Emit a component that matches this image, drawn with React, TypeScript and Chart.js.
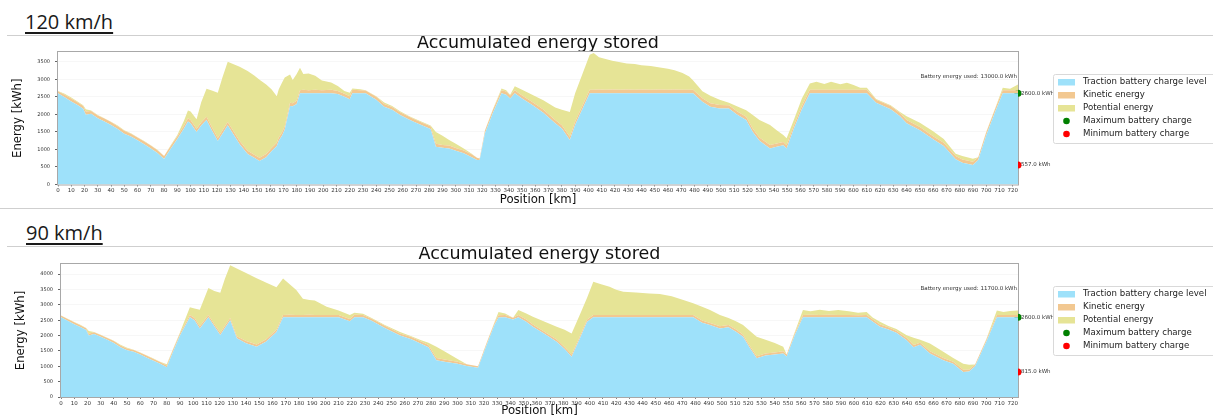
import React, { useEffect, useRef } from "react";
import { Chart, registerables } from "chart.js";

Chart.register(...registerables);

// ---------- 120 km/h ----------
const positions120 = [
  0, 5, 10, 15, 19, 21, 25, 30, 35, 40, 45, 50, 55, 60, 65, 70, 75, 80, 85, 90, 95, 98, 100, 104.5, 108, 112, 116,
  120.5, 124, 128, 132, 137, 143, 148, 152, 157, 161, 165, 166.5, 169, 171, 175, 177, 180, 182.5, 185, 189, 194, 199,
  206, 211, 216, 220, 222, 228, 232, 240, 246, 252, 258, 265, 270, 277, 281, 285, 290, 295, 300, 306, 312, 316, 318,
  322, 328, 334.5, 338, 341, 344.5, 350, 358, 366, 375, 380, 386, 390, 396, 401, 404, 408, 413, 418, 424, 429, 435,
  440, 447, 454, 460, 465, 471, 476, 479, 486, 492, 499, 506, 512, 519, 524, 529, 537, 542, 547, 549.5, 555, 561, 567,
  572, 578, 583, 590, 595, 600, 605, 610, 617, 628, 635, 640, 650, 660, 668, 677, 682, 690, 694, 700, 707, 712.5, 718,
  724,
];
const battery120 = [
  2600, 2490, 2370, 2260, 2160, 1990, 2020, 1890, 1800, 1700, 1580, 1450, 1370, 1260, 1150, 1030, 900, 730, 1020, 1300,
  1600, 1800, 1750, 1500, 1680, 1840, 1550, 1240, 1450, 1690, 1450, 1150, 870, 760, 670, 780, 950, 1100, 1250, 1400,
  1570, 2240, 2230, 2300, 2600, 2600, 2600, 2600, 2600, 2600, 2580, 2500, 2430, 2600, 2600, 2600, 2420, 2220, 2130,
  1980, 1850, 1760, 1645, 1580, 1080, 1050, 1030, 960, 890, 780, 700, 700, 1460, 2050, 2600, 2560, 2450, 2600, 2450,
  2260, 2050, 1750, 1600, 1270, 1700, 2200, 2600, 2600, 2600, 2600, 2600, 2600, 2600, 2600, 2600, 2600, 2600, 2600,
  2600, 2600, 2600, 2600, 2360, 2220, 2170, 2170, 2000, 1840, 1500, 1250, 1030, 1080, 1120, 1030, 1600, 2150, 2600,
  2600, 2600, 2600, 2600, 2600, 2600, 2600, 2600, 2330, 2150, 1950, 1750, 1550, 1290, 1100, 720, 620, 557, 700, 1400,
  2100, 2600, 2600, 2600,
];
const kinetic120 = [
  60, 70, 80, 80, 80, 90, 80, 80, 80, 80, 80, 80, 80, 80, 80, 80, 80, 80, 80, 80, 80, 90, 90, 90, 90, 90, 90, 90, 90,
  90, 90, 90, 90, 90, 90, 90, 90, 90, 90, 90, 90, 90, 90, 90, 90, 100, 90, 100, 90, 100, 90, 90, 90, 100, 90, 80, 80,
  80, 80, 80, 80, 80, 80, 80, 80, 80, 80, 80, 80, 80, 60, 40, 80, 80, 90, 90, 90, 90, 90, 90, 90, 90, 90, 90, 90, 90,
  100, 100, 110, 100, 110, 100, 110, 100, 110, 100, 110, 100, 110, 100, 100, 100, 100, 100, 100, 90, 90, 90, 90, 90,
  100, 90, 90, 90, 90, 90, 100, 100, 100, 100, 100, 100, 100, 100, 100, 90, 90, 90, 90, 90, 90, 90, 90, 90, 90, 80,
  80, 80, 90, 90, 90,
];
const potential120 = [
  10, 30, 30, 20, 20, 70, 10, 10, 10, 10, 20, 20, 10, 10, 10, 10, 10, 0, 20, 30, 140, 220, 240, 270, 580, 800, 1040,
  1290, 1510, 1720, 1900, 2120, 2280, 2260, 2230, 1980, 1680, 1330, 1380, 1420, 1390, 810, 660, 760, 640, 450, 480,
  400, 280, 210, 140, 80, 100, 40, 30, 10, 20, 40, 30, 30, 20, 20, 20, 20, 340, 260, 160, 120, 60, 20, 0, 0, 10, 20,
  50, 40, 20, 110, 160, 200, 260, 360, 440, 710, 810, 910, 1000, 1050, 920, 880, 820, 790, 740, 740, 690, 680, 630,
  600, 550, 480, 380, 270, 200, 210, 150, 70, 140, 190, 390, 500, 570, 380, 200, 200, 160, 210, 180, 230, 170, 230,
  160, 200, 140, 60, 60, 20, 20, 30, 110, 120, 140, 110, 70, 100, 90, 0, 20, 20, 70, 40, 160,
];

// ---------- 90 km/h ----------
const positions90 = [
  0, 5, 10, 15, 19, 21, 25, 30, 35, 40, 45, 50, 55, 60, 65, 70, 75, 80, 85, 90, 97.5, 101, 105, 111.5, 116, 120.5,
  124, 128, 133, 140, 148, 155, 163, 168, 173, 178, 183, 188, 192, 201, 210, 218.5, 222, 228.5, 235, 245, 256.5, 265,
  272, 278, 284, 290, 300, 307, 315.5, 322, 328, 331, 336, 342, 346, 352, 357, 366, 375, 381, 386.3, 393, 398, 402.7,
  408, 415, 420, 425.4, 435, 445, 453, 462, 470.8, 478.3, 485, 491, 498.5, 505, 511, 516, 521, 526.3, 533, 540, 546.4,
  549, 555, 561.3, 567, 574, 581, 588, 596, 603, 609.5, 614, 619.6, 626, 632, 639.8, 645, 650, 657.4, 667.5, 675,
  682.6, 687, 691.5, 700, 708, 713, 718, 724,
];
const battery90 = [
  2600, 2480, 2370, 2270, 2180, 2000, 2050, 1960, 1860, 1760, 1620, 1520, 1470, 1380, 1280, 1180, 1080, 965, 1500,
  2000, 2600, 2500, 2230, 2600, 2300, 2020, 2250, 2500, 1910, 1750, 1640, 1800, 2120, 2600, 2600, 2600, 2600, 2600,
  2600, 2600, 2600, 2470, 2600, 2600, 2480, 2250, 2000, 1880, 1745, 1620, 1200, 1150, 1080, 1010, 950, 1690, 2350,
  2590, 2600, 2520, 2600, 2450, 2290, 2050, 1800, 1560, 1310, 1950, 2450, 2600, 2600, 2600, 2600, 2600, 2600, 2600,
  2600, 2600, 2600, 2600, 2420, 2340, 2230, 2270, 2120, 1960, 1600, 1260, 1350, 1380, 1420, 1320, 2000, 2600, 2600,
  2600, 2600, 2600, 2600, 2600, 2600, 2460, 2290, 2200, 2090, 1850, 1620, 1700, 1420, 1200, 1080, 815, 830, 1000,
  1800, 2600, 2600, 2600, 2600,
];
const kinetic90 = [
  50, 60, 60, 60, 60, 60, 60, 60, 60, 60, 60, 60, 60, 60, 60, 60, 60, 60, 70, 70, 70, 70, 70, 70, 70, 70, 70, 70, 70,
  70, 70, 70, 70, 70, 80, 70, 70, 80, 70, 70, 70, 70, 80, 70, 70, 70, 70, 70, 70, 70, 70, 70, 70, 60, 50, 70, 70, 70,
  70, 60, 70, 70, 70, 70, 70, 70, 70, 70, 70, 70, 70, 70, 70, 70, 70, 70, 70, 70, 70, 70, 70, 70, 70, 70, 70, 70, 70,
  70, 70, 70, 70, 60, 70, 70, 80, 70, 80, 70, 70, 60, 70, 70, 70, 70, 70, 70, 70, 70, 70, 70, 70, 70, 60, 60, 60, 70,
  70, 70, 70, 70,
];
const potential90 = [
  0, 10, 10, 10, 10, 90, 10, 10, 10, 10, 20, 20, 10, 10, 10, 10, 10, 40, 20, 30, 250, 310, 540, 880, 1080, 1300, 1530,
  1720, 2200, 2220, 2160, 1860, 1380, 1190, 990, 810, 530, 480, 470, 270, 150, 130, 60, 40, 20, 20, 50, 30, 40, 80,
  370, 270, 90, 0, 0, 10, 20, 110, 50, 0, 160, 200, 250, 330, 420, 560, 690, 710, 710, 1080, 1010, 920, 820, 760, 730,
  700, 680, 610, 490, 380, 450, 420, 370, 230, 270, 310, 490, 630, 440, 310, 150, 0, 30, 160, 110, 170, 120, 160, 120,
  80, 100, 60, 90, 40, 50, 90, 240, 90, 250, 200, 120, 200, 160, 0, 20, 150, 100, 130, 150,
];

// ---------- shared ----------
const headings = ["120 km/h", "90 km/h"];
const maxCharge = [2600, 2600];
const minCharge = [557, 815];
const energyUsed = [13000, 11700];
const yTicks120 = [0, 500, 1000, 1500, 2000, 2500, 3000, 3500];
const yTicks90 = [0, 500, 1000, 1500, 2000, 2500, 3000, 3500, 4000];
const xTicks = [
  0, 10, 20, 30, 40, 50, 60, 70, 80, 90, 100, 110, 120, 130, 140, 150, 160, 170, 180, 190, 200, 210, 220, 230, 240,
  250, 260, 270, 280, 290, 300, 310, 320, 330, 340, 350, 360, 370, 380, 390, 400, 410, 420, 430, 440, 450, 460, 470,
  480, 490, 500, 510, 520, 530, 540, 550, 560, 570, 580, 590, 600, 610, 620, 630, 640, 650, 660, 670, 680, 690, 700,
  710, 720,
];
const seriesLabels = [
  "Traction battery charge level",
  "Kinetic energy",
  "Potential energy",
  "Maximum battery charge",
  "Minimum battery charge",
];

const FONT = "'DejaVu Sans', sans-serif";
const BLUE = "#9ee1fa";
const ORANGE = "#f2c891";
const YELLOW = "#e6e496";
const GREEN = "#008000";
const RED = "#ff0000";

const overlayPlugin = {
  id: "overlay",
  beforeDatasetsDraw(chart: any) {
    const { ctx, chartArea: ca } = chart;
    ctx.save();
    ctx.strokeStyle = "#a8a8a8";
    ctx.lineWidth = 1;
    ctx.strokeRect(ca.left - 0.5, ca.top - 0.5, ca.right - ca.left + 1, ca.bottom - ca.top + 1);
    ctx.restore();
  },
  afterDraw(chart: any, _args: any, opts: any) {
    const { ctx, chartArea: ca } = chart;
    const y = chart.scales.y;
    ctx.save();
    ctx.fillStyle = "#333";
    ctx.font = `5.5px ${FONT}`;
    ctx.textBaseline = "middle";
    ctx.textAlign = "right";
    ctx.fillText(`Battery energy used: ${opts.used.toFixed(1)} kWh`, ca.right - 1, ca.top + 25);
    ctx.textAlign = "left";
    ctx.fillText(`${opts.max.toFixed(1)} kWh`, ca.right + 3, y.getPixelForValue(opts.max));
    ctx.fillText(`${opts.min.toFixed(1)} kWh`, ca.right + 3, y.getPixelForValue(opts.min));

    const bx = ca.right + 35;
    const by = ca.top + 22;
    const bw = 175;
    const bh = 69;
    ctx.fillStyle = "rgba(255,255,255,0.85)";
    ctx.strokeStyle = "#d9d9d9";
    ctx.lineWidth = 1;
    ctx.beginPath();
    (ctx as any).roundRect(bx + 0.5, by + 0.5, bw, bh, 2);
    ctx.fill();
    ctx.stroke();
    ctx.font = `8.6px ${FONT}`;
    ctx.textAlign = "left";
    ctx.textBaseline = "middle";
    chart.data.datasets.forEach((ds: any, i: number) => {
      const ry = by + 8 + i * 13;
      if (ds.showLine === false) {
        ctx.fillStyle = ds.pointBackgroundColor;
        ctx.beginPath();
        ctx.arc(bx + 13.5, ry, 3.3, 0, Math.PI * 2);
        ctx.fill();
      } else {
        ctx.fillStyle = ds.backgroundColor;
        ctx.fillRect(bx + 5, ry - 3, 17, 6.5);
      }
      ctx.fillStyle = "#222";
      ctx.fillText(ds.label, bx + 30, ry);
    });
    ctx.restore();
  },
};

type Props = {
  idx: number;
  positions: number[];
  battery: number[];
  kinetic: number[];
  potential: number[];
  yTicks: number[];
  top: number;
  height: number;
  yMax: number;
  yAxisWidth: number;
  xAxisHeight: number;
  yTitlePad: number;
  xTitlePad: number;
  titlePad: { top: number; bottom: number };
};

function EnergyChart(p: Props) {
  const ref = useRef<HTMLCanvasElement>(null);
  useEffect(() => {
    const canvas = ref.current!;
    const pts = (vals: number[]) => p.positions.map((x, i) => ({ x, y: vals[i] }));
    const xEnd = p.positions[p.positions.length - 1];
    const area = (label: string, vals: number[], color: string, fill: any) => ({
      label,
      data: pts(vals),
      backgroundColor: color,
      borderColor: "rgba(0,0,0,0)",
      borderWidth: 0,
      pointRadius: 0,
      tension: 0,
      fill,
      stack: "energy",
    });
    const marker = (label: string, val: number, color: string, stack: string) => ({
      label,
      data: [{ x: xEnd, y: val }],
      showLine: false,
      pointRadius: 3.5,
      pointBorderWidth: 0,
      pointBackgroundColor: color,
      pointBorderColor: color,
      backgroundColor: color,
      fill: false,
      clip: false,
      stack,
    });
    const chart = new Chart(canvas, {
      type: "line",
      data: {
        datasets: [
          area(seriesLabels[0], p.battery, BLUE, "origin"),
          area(seriesLabels[1], p.kinetic, ORANGE, "-1"),
          area(seriesLabels[2], p.potential, YELLOW, "-1"),
          marker(seriesLabels[3], maxCharge[p.idx], GREEN, "max"),
          marker(seriesLabels[4], minCharge[p.idx], RED, "min"),
        ] as any,
      },
      plugins: [overlayPlugin as any],
      options: {
        responsive: false,
        animation: false,
        devicePixelRatio: 1,
        events: [],
        layout: { padding: { left: 0, right: 195, top: 0, bottom: 0 } },
        plugins: {
          legend: { display: false },
          tooltip: { enabled: false },
          title: {
            display: true,
            text: "Accumulated energy stored",
            fullSize: false,
            color: "#111",
            font: { family: FONT, size: 17.5, weight: "normal", lineHeight: 1 },
            padding: p.titlePad,
          },
          overlay: { used: energyUsed[p.idx], max: maxCharge[p.idx], min: minCharge[p.idx] },
        } as any,
        scales: {
          x: {
            type: "linear",
            min: 0,
            max: xEnd,
            border: { display: false },
            grid: { display: true, drawOnChartArea: false, tickLength: 2, tickColor: "#666", lineWidth: 0.8 },
            afterBuildTicks: (s: any) => {
              s.ticks = xTicks.map((v) => ({ value: v }));
            },
            ticks: {
              autoSkip: false,
              maxRotation: 0,
              minRotation: 0,
              padding: 1,
              color: "#333",
              font: { family: FONT, size: 5.5 },
              callback: (v: any) => String(v),
            },
            title: {
              display: true,
              text: "Position [km]",
              color: "#111",
              font: { family: FONT, size: 11.7, lineHeight: 1.2 },
              padding: { top: 0, bottom: p.xTitlePad },
            },
            afterFit: (s: any) => {
              s.height = p.xAxisHeight;
            },
          },
          y: {
            stacked: true,
            min: 0,
            max: p.yMax,
            z: 1,
            border: { display: false },
            grid: { color: "rgba(246,246,246,0.9)", lineWidth: 1, tickLength: 3, tickColor: "#666" },
            afterBuildTicks: (s: any) => {
              s.ticks = p.yTicks.map((v) => ({ value: v }));
            },
            ticks: {
              autoSkip: false,
              padding: 5,
              color: "#333",
              font: { family: FONT, size: 5 },
              callback: (v: any) => String(v),
            },
            title: {
              display: true,
              text: "Energy [kWh]",
              color: "#111",
              font: { family: FONT, size: 11.7, lineHeight: 1.2 },
              padding: { top: p.yTitlePad, bottom: 0 },
            },
            afterFit: (s: any) => {
              s.width = p.yAxisWidth;
            },
          },
        } as any,
      },
    });
    return () => chart.destroy();
  }, []);
  return (
    <canvas
      ref={ref}
      width={1213}
      height={p.height}
      style={{ position: "absolute", left: 0, top: p.top, width: 1213, height: p.height }}
    />
  );
}

const headingStyle: React.CSSProperties = {
  position: "absolute",
  font: "20px 'Open Sans', sans-serif",
  lineHeight: "20px",
  color: "#1a1a1a",
  textDecoration: "underline",
  textDecorationThickness: "1.5px",
  textUnderlineOffset: "3px",
  whiteSpace: "nowrap",
};

const lineStyle = (top: number, left: number): React.CSSProperties => ({
  position: "absolute",
  top,
  left,
  width: 1213 - left,
  height: 1.5,
  background: "#cfcfcf",
});

export default function App() {
  return (
    <div style={{ position: "fixed", left: 0, top: 0, width: 1213, height: 417, background: "#fff", overflow: "hidden" }}>
      <div style={{ ...headingStyle, left: 25, top: 11.5 }}>{headings[0]}</div>
      <EnergyChart
        idx={0}
        positions={positions120}
        battery={battery120}
        kinetic={kinetic120}
        potential={potential120}
        yTicks={yTicks120}
        top={36}
        height={172}
        yMax={3780}
        yAxisWidth={58}
        xAxisHeight={23.5}
        yTitlePad={10.5}
        xTitlePad={1}
        titlePad={{ top: -1, bottom: -0.5 }}
      />
      <div style={lineStyle(34.5, 7)} />
      <div style={lineStyle(207.5, 0)} />
      <div style={{ ...headingStyle, left: 26, top: 222.7 }}>{headings[1]}</div>
      <EnergyChart
        idx={1}
        positions={positions90}
        battery={battery90}
        kinetic={kinetic90}
        potential={potential90}
        yTicks={yTicks90}
        top={247}
        height={170}
        yMax={4330}
        yAxisWidth={61}
        xAxisHeight={20}
        yTitlePad={14}
        xTitlePad={-1}
        titlePad={{ top: -1, bottom: 0.5 }}
      />
      <div style={lineStyle(245.5, 7)} />
    </div>
  );
}
